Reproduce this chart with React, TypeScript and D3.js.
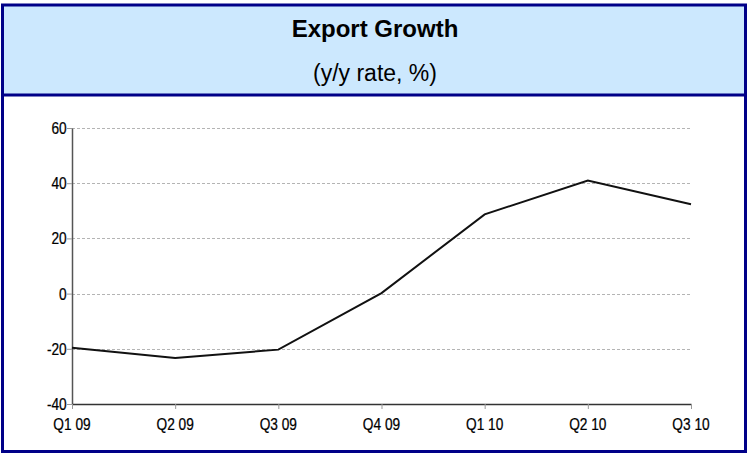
import React, { useEffect, useRef } from 'react';
import * as d3 from 'd3';

const quarters = ['Q1 09', 'Q2 09', 'Q3 09', 'Q4 09', 'Q1 10', 'Q2 10', 'Q3 10'];
const growth = [-19.6, -23.3, -20.3, 0.2, 28.7, 41.0, 32.4];
const yTicks = [-40, -20, 0, 20, 40, 60];

const title = 'Export Growth';
const subtitle = '(y/y rate, %)';

const W = 748;
const H = 454;
const NAVY = '#000088';
const sans = '"Liberation Sans", Arial, sans-serif';
const SQUEEZE = 0.83; // labels in the original are set in a narrow face

const App: React.FC = () => {
  const svgRef = useRef<SVGSVGElement>(null);

  useEffect(() => {
    if (!svgRef.current) return;
    const svg = d3.select(svgRef.current);
    svg.selectAll('*').remove();

    const margin = { top: 128, right: 57, bottom: 50, left: 72 };

    // frame and header
    svg.append('rect')
      .attr('x', 2.5).attr('y', 5).attr('width', 743).attr('height', 90)
      .attr('fill', '#cce8fe');
    svg.append('rect')
      .attr('x', 2.5).attr('y', 5).attr('width', 743).attr('height', 446.5)
      .attr('fill', 'none').attr('stroke', NAVY).attr('stroke-width', 3);
    svg.append('line')
      .attr('x1', 2.5).attr('x2', 745.5).attr('y1', 95).attr('y2', 95)
      .attr('stroke', NAVY).attr('stroke-width', 3);

    svg.append('text')
      .attr('x', 375).attr('y', 37)
      .attr('text-anchor', 'middle')
      .attr('font-family', sans).attr('font-size', 24).attr('font-weight', 'bold')
      .text(title);
    svg.append('text')
      .attr('x', 375).attr('y', 81)
      .attr('text-anchor', 'middle')
      .attr('font-family', sans).attr('font-size', 23)
      .text(subtitle);

    const x = d3.scalePoint<string>()
      .domain(quarters)
      .range([margin.left, W - margin.right]);

    const y = d3.scaleLinear()
      .domain([-40, 60])
      .range([H - margin.bottom, margin.top]);

    // gridlines
    svg.append('g')
      .selectAll('line')
      .data(yTicks)
      .enter()
      .append('line')
      .attr('x1', margin.left).attr('x2', W - margin.right)
      .attr('y1', d => Math.round(y(d)) + 0.5).attr('y2', d => Math.round(y(d)) + 0.5)
      .attr('stroke', '#b4b4b4')
      .attr('stroke-dasharray', '3,2');

    // y axis (ticks only, labels drawn below)
    const yAxis = svg.append('g')
      .attr('transform', `translate(${margin.left},0)`)
      .call(d3.axisLeft(y).tickValues(yTicks).tickSize(5).tickFormat(() => '').tickSizeOuter(0));
    yAxis.select('.domain').attr('stroke', '#555').attr('stroke-width', 1.5);
    yAxis.selectAll('.tick line').attr('stroke', '#999');

    svg.append('g')
      .selectAll('text')
      .data(yTicks)
      .enter()
      .append('text')
      .attr('transform', d => `translate(${margin.left - 5.3},${y(d) + 6}) scale(${SQUEEZE},1)`)
      .attr('text-anchor', 'end')
      .attr('font-family', sans).attr('font-size', 16.5)
      .attr('stroke', '#000').attr('stroke-width', 0.25)
      .text(d => String(d));

    // x axis
    const xAxis = svg.append('g')
      .attr('transform', `translate(0,${H - margin.bottom})`)
      .call(d3.axisBottom(x).tickSize(5).tickFormat(() => '').tickSizeOuter(0));
    xAxis.select('.domain').attr('stroke', '#333').attr('stroke-width', 1.5);
    xAxis.selectAll('.tick line').attr('stroke', '#999');

    svg.append('g')
      .selectAll('text')
      .data(quarters)
      .enter()
      .append('text')
      .attr('transform', d => `translate(${x(d)},${H - margin.bottom + 25.5}) scale(${SQUEEZE},1)`)
      .attr('text-anchor', 'middle')
      .attr('font-family', sans).attr('font-size', 16.5)
      .attr('stroke', '#000').attr('stroke-width', 0.25)
      .text(d => d);

    // series
    const line = d3.line<number>()
      .x((_, i) => x(quarters[i]) || 0)
      .y(d => y(d));

    svg.append('path')
      .datum(growth)
      .attr('d', line)
      .attr('fill', 'none')
      .attr('stroke', '#111')
      .attr('stroke-width', 2);
  }, []);

  return (
    <svg
      ref={svgRef}
      width={W}
      height={H}
      viewBox={`0 0 ${W} ${H}`}
      style={{ position: 'absolute', left: 0, top: 0, background: '#fff' }}
    />
  );
};

export default App;
